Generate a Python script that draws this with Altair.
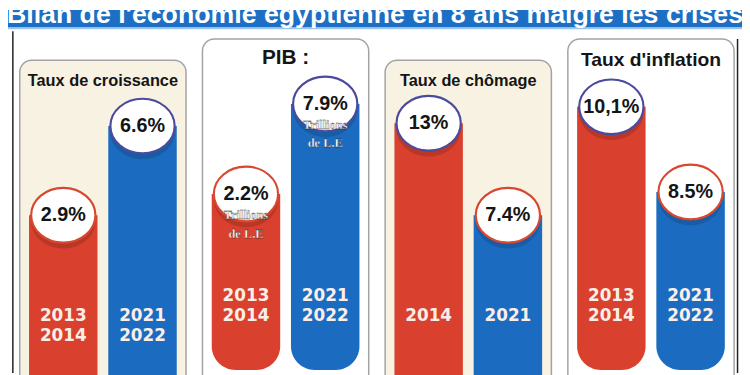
import altair as alt
import pandas as pd

# ---------------- data ----------------
panels = ["Taux de croissance", "PIB :", "Taux de chômage", "Taux d'inflation"]
periods = ["avant", "après"]
values = [2.9, 6.6, 2.2, 7.9, 13.0, 7.4, 10.1, 8.5]
value_labels = ["2.9%", "6.6%", "2.2%", "7.9%", "13%", "7.4%", "10,1%", "8.5%"]
year_labels = ["2013\n2014", "2021\n2022", "2013\n2014", "2021\n2022",
               "2014", "2021", "2013\n2014", "2021\n2022"]
unit_labels = ["", "", "Trillions\nde L.E", "Trillions\nde L.E", "", "", "", ""]
headline = "Bilan de l'économie égyptienne en 8 ans malgré les crises"

rows = []
for i, v in enumerate(values):
    rows.append(dict(panel=panels[i // 2], period=periods[i % 2], value=v,
                     label=value_labels[i], years=year_labels[i], unit=unit_labels[i]))
df = pd.DataFrame(rows)

# ---------------- style ----------------
W, H = 742, 367
RED = "#d9412e"
BLUE = "#1b6cc1"
PURPLE = "#4c4a9c"
RED_STROKE = "#d8472f"
BEIGE = "#f8f2e2"
BORDER = "#a3a3a3"
BANNER = "#1c6fc4"
ELL = "M-1,0A1,0.85,0,1,0,1,0A1,0.85,0,1,0,-1,0Z"
ELL_SIZE = 4225

x_enc = alt.X("panel:N", axis=None,
              scale=alt.Scale(domain=panels, range=[11.9, 734.0],
                              paddingInner=0.09, paddingOuter=0))
xo_enc = alt.XOffset("period:N",
                     scale=alt.Scale(domain=periods, paddingInner=0.136, paddingOuter=0.117))
color_enc = alt.Color("period:N", legend=None,
                      scale=alt.Scale(domain=periods, range=[RED, BLUE]))

one = pd.DataFrame({"t": [headline]})

# banner
banner = alt.Chart(one).mark_rect(fill=BANNER).encode(
    x=alt.value(0), x2=alt.value(W), y=alt.value(0), y2=alt.value(17.6))
banner_line = alt.Chart(one).mark_rect(fill="#9cc6ec").encode(
    x=alt.value(0), x2=alt.value(W), y=alt.value(17.6), y2=alt.value(19.6))
banner_text = alt.Chart(one).mark_text(
    font="Liberation Sans", fontWeight="bold", fontSize=27, color="white",
    align="center", baseline="alphabetic").encode(
    x=alt.value(W / 2), y=alt.value(13.5), text="t:N")

rule_left = alt.Chart(one).mark_rule(color="#222", strokeWidth=1.5).encode(
    x=alt.value(4.9), y=alt.value(21.5), y2=alt.value(H))
rule_right = alt.Chart(one).mark_rule(color="#222", strokeWidth=1.5).encode(
    x=alt.value(737.5), y=alt.value(29.4), y2=alt.value(H))

# panel backgrounds
bg_beige = alt.Chart(pd.DataFrame({"panel": [panels[0], panels[2]]})).mark_rect(
    fill=BEIGE, stroke=BORDER, strokeWidth=1.5, cornerRadius=12).encode(
    x=x_enc, y=alt.value(50.9), y2=alt.value(H + 20))
bg_white = alt.Chart(pd.DataFrame({"panel": [panels[1], panels[3]]})).mark_rect(
    fill="white", stroke=BORDER, strokeWidth=1.5, cornerRadius=12).encode(
    x=x_enc, y=alt.value(29.4), y2=alt.value(H + 20))

# panel titles
title_cfg = [(71.4, 16.5), (48.9, 21), (71.4, 16.5), (50.9, 19.5)]
titles = []
for i, (ty, fs) in enumerate(title_cfg):
    titles.append(
        alt.Chart(pd.DataFrame({"panel": [panels[i]]})).mark_text(
            font="Liberation Sans", fontWeight="bold", fontSize=fs, color="#151515",
            baseline="middle").encode(x=x_enc, y=alt.value(ty), text="panel:N"))


def panel_layer(i, dom, year_y, rounded):
    b = (alt.Chart(df)
         .transform_filter(alt.datum.panel == panels[i])
         .transform_joinaggregate(vmax="max(value)"))
    y = alt.Y("value:Q", axis=None, stack=None,
              scale=alt.Scale(domain=dom, zero=False, nice=False))
    kw = dict(cornerRadiusBottomLeft=24, cornerRadiusBottomRight=24) if rounded else {}
    bars = b.mark_bar(**kw).encode(
        x=x_enc, xOffset=xo_enc, y=y,
        y2=alt.value(364 if rounded else H + 20), color=color_enc)
    shadow = b.mark_point(shape=ELL, size=ELL_SIZE, filled=True, fill="#000",
                          opacity=0.14, strokeWidth=0, yOffset=6, xOffset=2).encode(
        x=x_enc, xOffset=xo_enc, y=y)
    circ = b.mark_point(shape=ELL, size=ELL_SIZE, filled=True, fill="white",
                        opacity=1, strokeWidth=2.2).encode(
        x=x_enc, xOffset=xo_enc, y=y,
        stroke=alt.condition("datum.value == datum.vmax",
                             alt.value(PURPLE), alt.value(RED_STROKE)))
    vtext = b.mark_text(font="Liberation Sans", fontWeight="bold", fontSize=20,
                        color="#151515", baseline="middle").encode(
        x=x_enc, xOffset=xo_enc, y=y, text="label:N")
    utext = b.transform_filter("datum.unit != ''").mark_text(
        lineBreak="\n", font="Liberation Serif", fontWeight="bold", fontSize=12.5,
        fill="white", stroke="#1e1e1e", strokeWidth=0.3, baseline="middle",
        dy=21, lineHeight=19).encode(
        x=x_enc, xOffset=xo_enc, y=y, text="unit:N")
    ytext = b.mark_text(lineBreak="\n", font="DejaVu Sans", fontWeight="bold",
                        fontSize=17, color="#fbeee8", baseline="middle",
                        lineHeight=20.6).encode(
        x=x_enc, xOffset=xo_enc, y=alt.value(year_y), text="years:N")
    return alt.layer(bars, shadow, circ, vtext, utext, ytext)


p1 = panel_layer(0, [-3.65, 11.42], 309.5, False)
p2 = panel_layer(1, [-9.12, 13.84], 288.7, True)
p3 = panel_layer(2, [-2.20, 19.89], 309.0, False)
p4 = panel_layer(3, [5.10, 11.92], 288.7, True)

chart = alt.layer(
    banner, banner_line, banner_text, rule_left, rule_right,
    bg_beige, bg_white, *titles, p1, p2, p3, p4
).resolve_scale(y="independent").properties(
    width=W, height=H, padding=0,
    autosize=alt.AutoSizeParams(type="none"), background="white"
).configure_view(strokeWidth=0)

chart.save("out.html", embed_options={"renderer": "svg", "actions": False})
